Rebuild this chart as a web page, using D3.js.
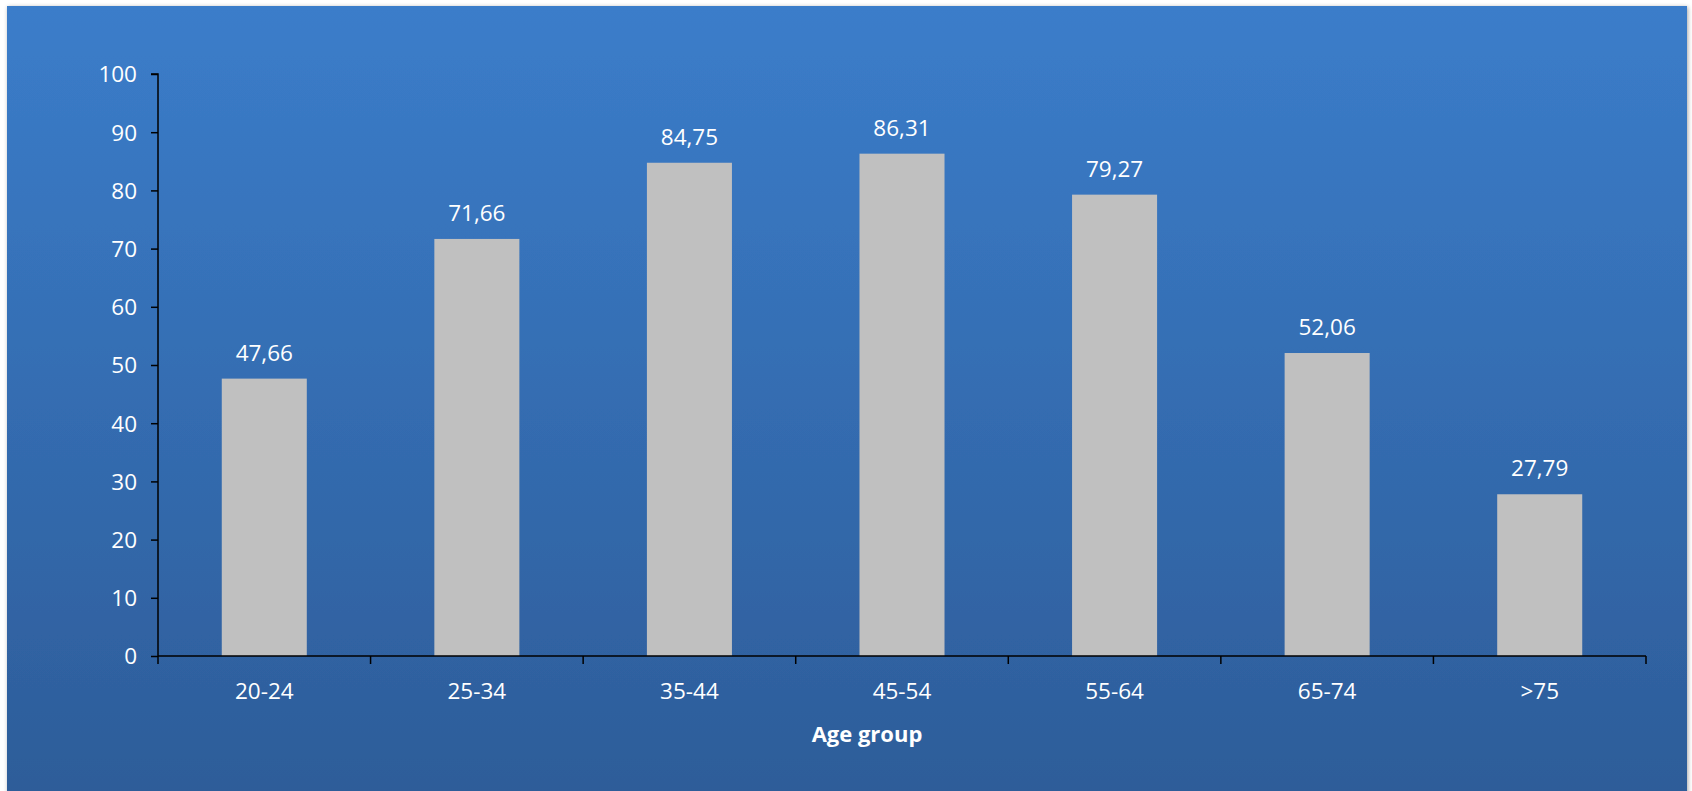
<!DOCTYPE html>
<html>
<head>
<meta charset="utf-8">
<script src="https://cdn.jsdelivr.net/npm/d3@7/dist/d3.min.js"></script>
<style>
  html, body { margin: 0; padding: 0; background: #ffffff; }
  svg { display: block; }
  text { font-family: "Open Sans", sans-serif; }
</style>
</head>
<body>
<svg id="chart" width="1692" height="791"></svg>
<script>
const categories = ["20-24", "25-34", "35-44", "45-54", "55-64", "65-74", ">75"];
const values = [47.66, 71.66, 84.75, 86.31, 79.27, 52.06, 27.79];
const yTicks = [0, 10, 20, 30, 40, 50, 60, 70, 80, 90, 100];
const xTitle = "Age group";

const W = 1692, H = 791;
const svg = d3.select("#chart");

const defs = svg.append("defs");
const grad = defs.append("linearGradient").attr("id", "bg").attr("x1", 0).attr("y1", 0).attr("x2", 0).attr("y2", 1);
grad.append("stop").attr("offset", "0%").attr("stop-color", "#3b7dca");
grad.append("stop").attr("offset", "100%").attr("stop-color", "#2d5c98");

const shadow = defs.append("filter").attr("id", "sh").attr("x", "-2%").attr("y", "-2%").attr("width", "104%").attr("height", "104%");
shadow.append("feDropShadow").attr("dx", 1).attr("dy", 1).attr("stdDeviation", 2).attr("flood-color", "#000").attr("flood-opacity", 0.35);

svg.append("rect")
  .attr("x", 7).attr("y", 6).attr("width", 1680).attr("height", 800)
  .attr("fill", "url(#bg)")
  .attr("filter", "url(#sh)");

const x0 = 158, x1 = 1646, yTop = 74, yBot = 656;

const x = d3.scaleBand().domain(categories).range([x0, x1]).padding(0);
const y = d3.scaleLinear().domain([0, 100]).range([yBot, yTop]);

const barW = x.bandwidth() * 0.4;

// bars
svg.append("g").selectAll("rect")
  .data(values)
  .join("rect")
  .attr("x", (d, i) => x(categories[i]) + (x.bandwidth() - barW) / 2)
  .attr("y", d => y(d))
  .attr("width", barW)
  .attr("height", d => y(0) - y(d))
  .attr("fill", "#c0c0c0");

// value labels
svg.append("g").selectAll("text")
  .data(values)
  .join("text")
  .attr("x", (d, i) => x(categories[i]) + x.bandwidth() / 2)
  .attr("y", d => y(d) - 18)
  .attr("text-anchor", "middle")
  .attr("fill", "#ffffff")
  .attr("font-size", "22.5px")
  .text(d => d.toFixed(2).replace(".", ","));

// y axis
const yAxis = d3.axisLeft(y).tickValues(yTicks).tickSize(7).tickPadding(14).tickFormat(d3.format("d"));
const gy = svg.append("g").attr("transform", `translate(${x0},0)`).call(yAxis);
gy.select(".domain").attr("stroke", "#000").attr("stroke-width", 1.5).attr("d", `M-7,${yTop}H0V${yBot}`);
gy.selectAll(".tick line").attr("stroke", "#000").attr("stroke-width", 1.5);
gy.selectAll(".tick text").attr("fill", "#ffffff").attr("font-size", "22.5px").attr("font-family", "Open Sans, sans-serif").attr("dy", "0.35em");

// x axis (ticks at band boundaries)
const gx = svg.append("g");
gx.append("line").attr("x1", x0).attr("x2", x1).attr("y1", yBot).attr("y2", yBot).attr("stroke", "#000").attr("stroke-width", 1.5);
const bounds = categories.map(c => x(c)).concat([x1]);
gx.selectAll("line.tk").data(bounds).join("line").attr("class", "tk")
  .attr("x1", d => d).attr("x2", d => d).attr("y1", yBot).attr("y2", yBot + 8)
  .attr("stroke", "#000").attr("stroke-width", 1.5);
gx.selectAll("text").data(categories).join("text")
  .attr("x", d => x(d) + x.bandwidth() / 2)
  .attr("y", yBot + 43)
  .attr("text-anchor", "middle")
  .attr("fill", "#ffffff")
  .attr("font-size", "22.5px")
  .text(d => d);

// x title
svg.append("text")
  .attr("x", 867).attr("y", 742)
  .attr("text-anchor", "middle")
  .attr("fill", "#ffffff")
  .attr("font-size", "22px")
  .attr("font-weight", "bold")
  .text(xTitle);
</script>
</body>
</html>
